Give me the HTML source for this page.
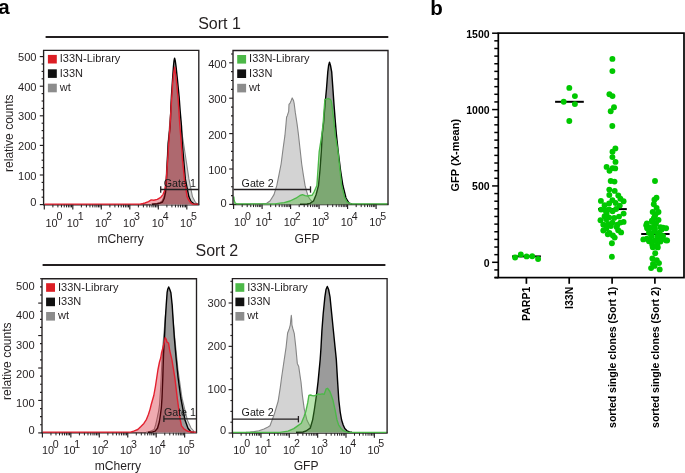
<!DOCTYPE html>
<html><head><meta charset="utf-8"><style>
html,body{margin:0;padding:0;background:#fff;}
body{width:685px;height:473px;overflow:hidden;}
svg{display:block;font-family:"Liberation Sans", sans-serif;will-change:transform;}
</style></head><body>
<svg width="685" height="473" viewBox="0 0 685 473">
<rect width="685" height="473" fill="#fff"/>
<text x="-1.70" y="14.00" font-size="20.5" text-anchor="start" font-weight="bold" fill="#000" >a</text>
<text x="430.30" y="14.50" font-size="20.5" text-anchor="start" font-weight="bold" fill="#000" >b</text>
<text x="219.50" y="28.50" font-size="16" text-anchor="middle" font-weight="normal" fill="#231f20" >Sort 1</text>
<line x1="45.60" y1="37.00" x2="388.30" y2="37.00" stroke="#231f20" stroke-width="2" stroke-linecap="butt"/>
<text x="216.90" y="256.00" font-size="16" text-anchor="middle" font-weight="normal" fill="#231f20" >Sort 2</text>
<line x1="42.60" y1="265.00" x2="385.40" y2="265.00" stroke="#231f20" stroke-width="2" stroke-linecap="butt"/>
<line x1="43.00" y1="204.80" x2="199.40" y2="204.80" stroke="#231f20" stroke-width="1.35" stroke-linecap="butt"/>
<path d="M151.00,204.30 L156.50,203.60 L159.50,202.60 L162.00,201.00 L163.80,197.00 L165.00,191.00 L166.00,179.00 L168.00,143.00 L170.00,120.00 L172.00,95.00 L174.00,80.00 L175.50,78.00 L177.00,85.00 L179.50,110.00 L181.50,130.00 L183.50,143.00 L186.20,160.90 L188.90,178.90 L192.50,196.80 L195.00,201.50 L197.00,204.00 L198.30,204.30 L198.30,204.60 L151.00,204.60 Z" fill="#d3d3d3" stroke="none"/>
<path d="M151.00,204.30 L156.50,203.60 L159.50,202.60 L162.00,201.00 L163.80,197.00 L165.00,191.00 L166.00,179.00 L168.00,143.00 L170.00,120.00 L172.00,95.00 L174.00,80.00 L175.50,78.00 L177.00,85.00 L179.50,110.00 L181.50,130.00 L183.50,143.00 L186.20,160.90 L188.90,178.90 L192.50,196.80 L195.00,201.50 L197.00,204.00 L198.30,204.30" fill="none" stroke="#858585" stroke-width="1.1" stroke-linejoin="round"/>
<path d="M152.00,204.30 L157.30,203.80 L160.00,203.10 L162.50,202.00 L164.30,198.10 L165.60,192.00 L166.50,179.00 L168.30,143.00 L170.20,126.20 L170.80,110.40 L171.40,96.50 L172.70,77.40 L173.50,66.00 L174.00,61.00 L174.60,58.10 L175.30,61.00 L176.00,66.00 L177.20,77.40 L179.10,96.50 L180.10,110.40 L181.50,126.20 L182.30,143.00 L185.30,178.90 L188.90,196.80 L191.00,201.50 L194.30,204.00 L198.00,204.30 L198.00,204.60 L152.00,204.60 Z" fill="#9b9b9b" stroke="none"/>
<path d="M152.00,204.30 L157.30,203.80 L160.00,203.10 L162.50,202.00 L164.30,198.10 L165.60,192.00 L166.50,179.00 L168.30,143.00 L170.20,126.20 L170.80,110.40 L171.40,96.50 L172.70,77.40 L173.50,66.00 L174.00,61.00 L174.60,58.10 L175.30,61.00 L176.00,66.00 L177.20,77.40 L179.10,96.50 L180.10,110.40 L181.50,126.20 L182.30,143.00 L185.30,178.90 L188.90,196.80 L191.00,201.50 L194.30,204.00 L198.00,204.30" fill="none" stroke="#000000" stroke-width="1.4" stroke-linejoin="round"/>
<path d="M44.50,204.10 L136.00,204.10 L140.00,204.10 L143.00,203.50 L145.00,203.00 L148.50,201.60 L151.20,199.90 L153.80,200.30 L157.30,199.40 L160.80,197.30 L163.00,194.60 L164.70,190.30 L165.60,185.00 L166.30,178.90 L167.60,160.90 L168.80,143.00 L170.00,125.00 L171.60,100.00 L172.80,82.00 L173.60,74.00 L174.60,67.20 L175.50,74.00 L176.50,82.00 L178.20,100.00 L179.80,125.00 L181.30,143.00 L182.60,160.90 L184.40,178.90 L187.10,196.80 L188.90,200.40 L191.00,203.00 L192.50,204.10 L198.30,204.10 L198.30,204.60 L44.50,204.60 Z" fill="rgba(210,12,28,0.35)" stroke="none"/>
<path d="M44.50,204.10 L136.00,204.10 L140.00,204.10 L143.00,203.50 L145.00,203.00 L148.50,201.60 L151.20,199.90 L153.80,200.30 L157.30,199.40 L160.80,197.30 L163.00,194.60 L164.70,190.30 L165.60,185.00 L166.30,178.90 L167.60,160.90 L168.80,143.00 L170.00,125.00 L171.60,100.00 L172.80,82.00 L173.60,74.00 L174.60,67.20 L175.50,74.00 L176.50,82.00 L178.20,100.00 L179.80,125.00 L181.30,143.00 L182.60,160.90 L184.40,178.90 L187.10,196.80 L188.90,200.40 L191.00,203.00 L192.50,204.10 L198.30,204.10" fill="none" stroke="#e3202f" stroke-width="1.4" stroke-linejoin="round"/>
<path d="M43.60,204.80 L43.60,50.40 L198.80,50.40 L198.80,204.80" fill="none" stroke="#231f20" stroke-width="1.35"/>
<line x1="39.80" y1="56.60" x2="43.60" y2="56.60" stroke="#231f20" stroke-width="1.15" stroke-linecap="butt"/>
<line x1="41.60" y1="64.00" x2="43.60" y2="64.00" stroke="#231f20" stroke-width="1.15" stroke-linecap="butt"/>
<line x1="41.60" y1="71.40" x2="43.60" y2="71.40" stroke="#231f20" stroke-width="1.15" stroke-linecap="butt"/>
<line x1="41.60" y1="78.80" x2="43.60" y2="78.80" stroke="#231f20" stroke-width="1.15" stroke-linecap="butt"/>
<line x1="39.80" y1="86.20" x2="43.60" y2="86.20" stroke="#231f20" stroke-width="1.15" stroke-linecap="butt"/>
<line x1="41.60" y1="93.60" x2="43.60" y2="93.60" stroke="#231f20" stroke-width="1.15" stroke-linecap="butt"/>
<line x1="41.60" y1="101.00" x2="43.60" y2="101.00" stroke="#231f20" stroke-width="1.15" stroke-linecap="butt"/>
<line x1="41.60" y1="108.40" x2="43.60" y2="108.40" stroke="#231f20" stroke-width="1.15" stroke-linecap="butt"/>
<line x1="39.80" y1="115.80" x2="43.60" y2="115.80" stroke="#231f20" stroke-width="1.15" stroke-linecap="butt"/>
<line x1="41.60" y1="123.20" x2="43.60" y2="123.20" stroke="#231f20" stroke-width="1.15" stroke-linecap="butt"/>
<line x1="41.60" y1="130.60" x2="43.60" y2="130.60" stroke="#231f20" stroke-width="1.15" stroke-linecap="butt"/>
<line x1="41.60" y1="138.00" x2="43.60" y2="138.00" stroke="#231f20" stroke-width="1.15" stroke-linecap="butt"/>
<line x1="39.80" y1="145.40" x2="43.60" y2="145.40" stroke="#231f20" stroke-width="1.15" stroke-linecap="butt"/>
<line x1="41.60" y1="152.80" x2="43.60" y2="152.80" stroke="#231f20" stroke-width="1.15" stroke-linecap="butt"/>
<line x1="41.60" y1="160.20" x2="43.60" y2="160.20" stroke="#231f20" stroke-width="1.15" stroke-linecap="butt"/>
<line x1="41.60" y1="167.60" x2="43.60" y2="167.60" stroke="#231f20" stroke-width="1.15" stroke-linecap="butt"/>
<line x1="39.80" y1="175.00" x2="43.60" y2="175.00" stroke="#231f20" stroke-width="1.15" stroke-linecap="butt"/>
<line x1="41.60" y1="182.40" x2="43.60" y2="182.40" stroke="#231f20" stroke-width="1.15" stroke-linecap="butt"/>
<line x1="41.60" y1="189.80" x2="43.60" y2="189.80" stroke="#231f20" stroke-width="1.15" stroke-linecap="butt"/>
<line x1="41.60" y1="197.20" x2="43.60" y2="197.20" stroke="#231f20" stroke-width="1.15" stroke-linecap="butt"/>
<line x1="39.80" y1="204.60" x2="43.60" y2="204.60" stroke="#231f20" stroke-width="1.15" stroke-linecap="butt"/>
<text x="36.50" y="61.20" font-size="11.1" text-anchor="end" font-weight="normal" fill="#231f20" >500</text>
<text x="36.50" y="90.80" font-size="11.1" text-anchor="end" font-weight="normal" fill="#231f20" >400</text>
<text x="36.50" y="120.40" font-size="11.1" text-anchor="end" font-weight="normal" fill="#231f20" >300</text>
<text x="36.50" y="150.00" font-size="11.1" text-anchor="end" font-weight="normal" fill="#231f20" >200</text>
<text x="36.50" y="179.60" font-size="11.1" text-anchor="end" font-weight="normal" fill="#231f20" >100</text>
<text x="36.50" y="206.30" font-size="11.1" text-anchor="end" font-weight="normal" fill="#231f20" >0</text>
<line x1="44.30" y1="204.80" x2="44.30" y2="209.40" stroke="#231f20" stroke-width="1.15" stroke-linecap="butt"/>
<line x1="52.88" y1="204.80" x2="52.88" y2="207.40" stroke="#231f20" stroke-width="1.0" stroke-linecap="butt"/>
<line x1="57.90" y1="204.80" x2="57.90" y2="207.40" stroke="#231f20" stroke-width="1.0" stroke-linecap="butt"/>
<line x1="61.46" y1="204.80" x2="61.46" y2="207.40" stroke="#231f20" stroke-width="1.0" stroke-linecap="butt"/>
<line x1="64.22" y1="204.80" x2="64.22" y2="207.40" stroke="#231f20" stroke-width="1.0" stroke-linecap="butt"/>
<line x1="66.48" y1="204.80" x2="66.48" y2="207.40" stroke="#231f20" stroke-width="1.0" stroke-linecap="butt"/>
<line x1="68.39" y1="204.80" x2="68.39" y2="207.40" stroke="#231f20" stroke-width="1.0" stroke-linecap="butt"/>
<line x1="70.04" y1="204.80" x2="70.04" y2="207.40" stroke="#231f20" stroke-width="1.0" stroke-linecap="butt"/>
<line x1="71.50" y1="204.80" x2="71.50" y2="207.40" stroke="#231f20" stroke-width="1.0" stroke-linecap="butt"/>
<line x1="72.80" y1="204.80" x2="72.80" y2="209.40" stroke="#231f20" stroke-width="1.15" stroke-linecap="butt"/>
<line x1="81.38" y1="204.80" x2="81.38" y2="207.40" stroke="#231f20" stroke-width="1.0" stroke-linecap="butt"/>
<line x1="86.40" y1="204.80" x2="86.40" y2="207.40" stroke="#231f20" stroke-width="1.0" stroke-linecap="butt"/>
<line x1="89.96" y1="204.80" x2="89.96" y2="207.40" stroke="#231f20" stroke-width="1.0" stroke-linecap="butt"/>
<line x1="92.72" y1="204.80" x2="92.72" y2="207.40" stroke="#231f20" stroke-width="1.0" stroke-linecap="butt"/>
<line x1="94.98" y1="204.80" x2="94.98" y2="207.40" stroke="#231f20" stroke-width="1.0" stroke-linecap="butt"/>
<line x1="96.89" y1="204.80" x2="96.89" y2="207.40" stroke="#231f20" stroke-width="1.0" stroke-linecap="butt"/>
<line x1="98.54" y1="204.80" x2="98.54" y2="207.40" stroke="#231f20" stroke-width="1.0" stroke-linecap="butt"/>
<line x1="100.00" y1="204.80" x2="100.00" y2="207.40" stroke="#231f20" stroke-width="1.0" stroke-linecap="butt"/>
<line x1="101.30" y1="204.80" x2="101.30" y2="209.40" stroke="#231f20" stroke-width="1.15" stroke-linecap="butt"/>
<line x1="109.88" y1="204.80" x2="109.88" y2="207.40" stroke="#231f20" stroke-width="1.0" stroke-linecap="butt"/>
<line x1="114.90" y1="204.80" x2="114.90" y2="207.40" stroke="#231f20" stroke-width="1.0" stroke-linecap="butt"/>
<line x1="118.46" y1="204.80" x2="118.46" y2="207.40" stroke="#231f20" stroke-width="1.0" stroke-linecap="butt"/>
<line x1="121.22" y1="204.80" x2="121.22" y2="207.40" stroke="#231f20" stroke-width="1.0" stroke-linecap="butt"/>
<line x1="123.48" y1="204.80" x2="123.48" y2="207.40" stroke="#231f20" stroke-width="1.0" stroke-linecap="butt"/>
<line x1="125.39" y1="204.80" x2="125.39" y2="207.40" stroke="#231f20" stroke-width="1.0" stroke-linecap="butt"/>
<line x1="127.04" y1="204.80" x2="127.04" y2="207.40" stroke="#231f20" stroke-width="1.0" stroke-linecap="butt"/>
<line x1="128.50" y1="204.80" x2="128.50" y2="207.40" stroke="#231f20" stroke-width="1.0" stroke-linecap="butt"/>
<line x1="129.80" y1="204.80" x2="129.80" y2="209.40" stroke="#231f20" stroke-width="1.15" stroke-linecap="butt"/>
<line x1="138.38" y1="204.80" x2="138.38" y2="207.40" stroke="#231f20" stroke-width="1.0" stroke-linecap="butt"/>
<line x1="143.40" y1="204.80" x2="143.40" y2="207.40" stroke="#231f20" stroke-width="1.0" stroke-linecap="butt"/>
<line x1="146.96" y1="204.80" x2="146.96" y2="207.40" stroke="#231f20" stroke-width="1.0" stroke-linecap="butt"/>
<line x1="149.72" y1="204.80" x2="149.72" y2="207.40" stroke="#231f20" stroke-width="1.0" stroke-linecap="butt"/>
<line x1="151.98" y1="204.80" x2="151.98" y2="207.40" stroke="#231f20" stroke-width="1.0" stroke-linecap="butt"/>
<line x1="153.89" y1="204.80" x2="153.89" y2="207.40" stroke="#231f20" stroke-width="1.0" stroke-linecap="butt"/>
<line x1="155.54" y1="204.80" x2="155.54" y2="207.40" stroke="#231f20" stroke-width="1.0" stroke-linecap="butt"/>
<line x1="157.00" y1="204.80" x2="157.00" y2="207.40" stroke="#231f20" stroke-width="1.0" stroke-linecap="butt"/>
<line x1="158.30" y1="204.80" x2="158.30" y2="209.40" stroke="#231f20" stroke-width="1.15" stroke-linecap="butt"/>
<line x1="166.88" y1="204.80" x2="166.88" y2="207.40" stroke="#231f20" stroke-width="1.0" stroke-linecap="butt"/>
<line x1="171.90" y1="204.80" x2="171.90" y2="207.40" stroke="#231f20" stroke-width="1.0" stroke-linecap="butt"/>
<line x1="175.46" y1="204.80" x2="175.46" y2="207.40" stroke="#231f20" stroke-width="1.0" stroke-linecap="butt"/>
<line x1="178.22" y1="204.80" x2="178.22" y2="207.40" stroke="#231f20" stroke-width="1.0" stroke-linecap="butt"/>
<line x1="180.48" y1="204.80" x2="180.48" y2="207.40" stroke="#231f20" stroke-width="1.0" stroke-linecap="butt"/>
<line x1="182.39" y1="204.80" x2="182.39" y2="207.40" stroke="#231f20" stroke-width="1.0" stroke-linecap="butt"/>
<line x1="184.04" y1="204.80" x2="184.04" y2="207.40" stroke="#231f20" stroke-width="1.0" stroke-linecap="butt"/>
<line x1="185.50" y1="204.80" x2="185.50" y2="207.40" stroke="#231f20" stroke-width="1.0" stroke-linecap="butt"/>
<line x1="186.80" y1="204.80" x2="186.80" y2="209.40" stroke="#231f20" stroke-width="1.15" stroke-linecap="butt"/>
<text x="45.50" y="226.60" font-size="10.9" fill="#231f20">10<tspan dx="-1.2" dy="-6.4" font-size="10.6">0</tspan></text>
<text x="66.80" y="226.60" font-size="10.9" fill="#231f20">10<tspan dx="-1.2" dy="-6.4" font-size="10.6">1</tspan></text>
<text x="95.10" y="226.60" font-size="10.9" fill="#231f20">10<tspan dx="-1.2" dy="-6.4" font-size="10.6">2</tspan></text>
<text x="123.10" y="226.60" font-size="10.9" fill="#231f20">10<tspan dx="-1.2" dy="-6.4" font-size="10.6">3</tspan></text>
<text x="151.80" y="226.60" font-size="10.9" fill="#231f20">10<tspan dx="-1.2" dy="-6.4" font-size="10.6">4</tspan></text>
<text x="180.10" y="226.60" font-size="10.9" fill="#231f20">10<tspan dx="-1.2" dy="-6.4" font-size="10.6">5</tspan></text>
<text x="97.40" y="242.60" font-size="12.1" text-anchor="start" font-weight="normal" fill="#231f20" >mCherry</text>
<rect x="47.90" y="54.90" width="8.9" height="8.6" fill="#dc1e25"/>
<text x="59.80" y="62.30" font-size="11.0" text-anchor="start" font-weight="normal" fill="#231f20" >I33N-Library</text>
<rect x="47.90" y="69.30" width="8.9" height="8.6" fill="#111111"/>
<text x="59.80" y="76.70" font-size="11.0" text-anchor="start" font-weight="normal" fill="#231f20" >I33N</text>
<rect x="47.90" y="83.70" width="8.9" height="8.6" fill="#8c8c8c"/>
<text x="59.80" y="91.10" font-size="11.0" text-anchor="start" font-weight="normal" fill="#231f20" >wt</text>
<line x1="160.70" y1="189.50" x2="198.80" y2="189.50" stroke="#231f20" stroke-width="1.3" stroke-linecap="butt"/>
<line x1="160.70" y1="186.30" x2="160.70" y2="192.70" stroke="#231f20" stroke-width="1.3" stroke-linecap="butt"/>
<text x="163.80" y="187.10" font-size="10.7" text-anchor="start" font-weight="normal" fill="#1a1a1a" >Gate 1</text>
<line x1="232.40" y1="204.50" x2="388.60" y2="204.50" stroke="#231f20" stroke-width="1.35" stroke-linecap="butt"/>
<path d="M250.00,204.30 L258.00,204.10 L262.00,203.90 L266.70,203.30 L270.00,201.00 L274.00,194.60 L276.90,185.20 L279.00,174.60 L281.10,164.00 L283.10,148.50 L284.90,135.70 L286.00,124.10 L286.60,117.10 L287.20,115.90 L288.70,111.30 L289.00,104.30 L290.10,103.10 L291.20,100.50 L292.20,97.90 L293.00,99.50 L293.60,100.80 L294.20,103.70 L295.30,112.40 L297.10,124.10 L298.30,133.40 L300.00,148.50 L301.70,164.00 L303.30,174.60 L305.00,185.20 L306.50,191.00 L308.50,197.00 L310.50,200.00 L314.00,203.00 L320.00,204.30 L320.00,204.40 L250.00,204.40 Z" fill="#d3d3d3" stroke="none"/>
<path d="M250.00,204.30 L258.00,204.10 L262.00,203.90 L266.70,203.30 L270.00,201.00 L274.00,194.60 L276.90,185.20 L279.00,174.60 L281.10,164.00 L283.10,148.50 L284.90,135.70 L286.00,124.10 L286.60,117.10 L287.20,115.90 L288.70,111.30 L289.00,104.30 L290.10,103.10 L291.20,100.50 L292.20,97.90 L293.00,99.50 L293.60,100.80 L294.20,103.70 L295.30,112.40 L297.10,124.10 L298.30,133.40 L300.00,148.50 L301.70,164.00 L303.30,174.60 L305.00,185.20 L306.50,191.00 L308.50,197.00 L310.50,200.00 L314.00,203.00 L320.00,204.30" fill="none" stroke="#858585" stroke-width="1.1" stroke-linejoin="round"/>
<path d="M300.00,204.30 L307.00,204.00 L310.00,203.40 L313.50,201.00 L316.00,195.00 L318.50,185.50 L320.00,170.00 L321.30,151.60 L322.20,134.40 L323.60,122.60 L324.90,105.70 L326.50,88.80 L327.80,71.90 L328.60,65.50 L329.50,62.10 L330.50,65.50 L331.70,71.90 L332.90,88.80 L334.10,105.70 L335.40,122.60 L336.40,134.40 L338.20,151.60 L340.50,170.00 L342.90,185.50 L346.00,198.00 L349.00,203.00 L352.00,204.30 L352.00,204.40 L300.00,204.40 Z" fill="#9b9b9b" stroke="none"/>
<path d="M300.00,204.30 L307.00,204.00 L310.00,203.40 L313.50,201.00 L316.00,195.00 L318.50,185.50 L320.00,170.00 L321.30,151.60 L322.20,134.40 L323.60,122.60 L324.90,105.70 L326.50,88.80 L327.80,71.90 L328.60,65.50 L329.50,62.10 L330.50,65.50 L331.70,71.90 L332.90,88.80 L334.10,105.70 L335.40,122.60 L336.40,134.40 L338.20,151.60 L340.50,170.00 L342.90,185.50 L346.00,198.00 L349.00,203.00 L352.00,204.30" fill="none" stroke="#000000" stroke-width="1.4" stroke-linejoin="round"/>
<path d="M233.80,196.50 L234.20,200.50 L235.00,202.80 L236.50,203.80 L240.00,203.80 L265.00,203.80 L275.00,203.80 L280.00,203.10 L284.20,202.60 L290.00,201.00 L295.90,198.20 L300.00,195.50 L302.50,194.60 L305.00,195.60 L307.60,196.00 L310.00,195.50 L312.00,195.30 L314.00,192.00 L316.90,185.50 L319.20,151.60 L321.90,134.40 L323.20,122.60 L324.40,105.70 L324.90,99.30 L326.50,99.20 L328.00,98.50 L329.30,99.00 L330.30,99.30 L331.20,101.00 L332.00,105.70 L334.00,122.60 L335.10,134.40 L338.00,151.60 L341.60,185.50 L344.50,197.00 L347.00,202.00 L351.00,203.80 L387.50,203.80 L387.50,204.40 L233.80,204.40 Z" fill="rgba(80,188,55,0.4)" stroke="none"/>
<path d="M233.80,196.50 L234.20,200.50 L235.00,202.80 L236.50,203.80 L240.00,203.80 L265.00,203.80 L275.00,203.80 L280.00,203.10 L284.20,202.60 L290.00,201.00 L295.90,198.20 L300.00,195.50 L302.50,194.60 L305.00,195.60 L307.60,196.00 L310.00,195.50 L312.00,195.30 L314.00,192.00 L316.90,185.50 L319.20,151.60 L321.90,134.40 L323.20,122.60 L324.40,105.70 L324.90,99.30 L326.50,99.20 L328.00,98.50 L329.30,99.00 L330.30,99.30 L331.20,101.00 L332.00,105.70 L334.00,122.60 L335.10,134.40 L338.00,151.60 L341.60,185.50 L344.50,197.00 L347.00,202.00 L351.00,203.80 L387.50,203.80" fill="none" stroke="#4cb848" stroke-width="1.35" stroke-linejoin="round"/>
<path d="M233.00,204.50 L233.00,50.50 L388.00,50.50 L388.00,204.50" fill="none" stroke="#231f20" stroke-width="1.35"/>
<line x1="231.00" y1="53.95" x2="233.00" y2="53.95" stroke="#231f20" stroke-width="1.15" stroke-linecap="butt"/>
<line x1="229.20" y1="62.80" x2="233.00" y2="62.80" stroke="#231f20" stroke-width="1.15" stroke-linecap="butt"/>
<line x1="231.00" y1="71.65" x2="233.00" y2="71.65" stroke="#231f20" stroke-width="1.15" stroke-linecap="butt"/>
<line x1="231.00" y1="80.50" x2="233.00" y2="80.50" stroke="#231f20" stroke-width="1.15" stroke-linecap="butt"/>
<line x1="231.00" y1="89.35" x2="233.00" y2="89.35" stroke="#231f20" stroke-width="1.15" stroke-linecap="butt"/>
<line x1="229.20" y1="98.20" x2="233.00" y2="98.20" stroke="#231f20" stroke-width="1.15" stroke-linecap="butt"/>
<line x1="231.00" y1="107.05" x2="233.00" y2="107.05" stroke="#231f20" stroke-width="1.15" stroke-linecap="butt"/>
<line x1="231.00" y1="115.90" x2="233.00" y2="115.90" stroke="#231f20" stroke-width="1.15" stroke-linecap="butt"/>
<line x1="231.00" y1="124.75" x2="233.00" y2="124.75" stroke="#231f20" stroke-width="1.15" stroke-linecap="butt"/>
<line x1="229.20" y1="133.60" x2="233.00" y2="133.60" stroke="#231f20" stroke-width="1.15" stroke-linecap="butt"/>
<line x1="231.00" y1="142.45" x2="233.00" y2="142.45" stroke="#231f20" stroke-width="1.15" stroke-linecap="butt"/>
<line x1="231.00" y1="151.30" x2="233.00" y2="151.30" stroke="#231f20" stroke-width="1.15" stroke-linecap="butt"/>
<line x1="231.00" y1="160.15" x2="233.00" y2="160.15" stroke="#231f20" stroke-width="1.15" stroke-linecap="butt"/>
<line x1="229.20" y1="169.00" x2="233.00" y2="169.00" stroke="#231f20" stroke-width="1.15" stroke-linecap="butt"/>
<line x1="231.00" y1="177.85" x2="233.00" y2="177.85" stroke="#231f20" stroke-width="1.15" stroke-linecap="butt"/>
<line x1="231.00" y1="186.70" x2="233.00" y2="186.70" stroke="#231f20" stroke-width="1.15" stroke-linecap="butt"/>
<line x1="231.00" y1="195.55" x2="233.00" y2="195.55" stroke="#231f20" stroke-width="1.15" stroke-linecap="butt"/>
<line x1="229.20" y1="204.40" x2="233.00" y2="204.40" stroke="#231f20" stroke-width="1.15" stroke-linecap="butt"/>
<text x="226.70" y="67.90" font-size="11.1" text-anchor="end" font-weight="normal" fill="#231f20" >400</text>
<text x="226.70" y="103.30" font-size="11.1" text-anchor="end" font-weight="normal" fill="#231f20" >300</text>
<text x="226.70" y="138.70" font-size="11.1" text-anchor="end" font-weight="normal" fill="#231f20" >200</text>
<text x="226.70" y="174.10" font-size="11.1" text-anchor="end" font-weight="normal" fill="#231f20" >100</text>
<text x="226.70" y="206.90" font-size="11.1" text-anchor="end" font-weight="normal" fill="#231f20" >0</text>
<line x1="233.60" y1="204.50" x2="233.60" y2="209.10" stroke="#231f20" stroke-width="1.15" stroke-linecap="butt"/>
<line x1="242.18" y1="204.50" x2="242.18" y2="207.10" stroke="#231f20" stroke-width="1.0" stroke-linecap="butt"/>
<line x1="247.20" y1="204.50" x2="247.20" y2="207.10" stroke="#231f20" stroke-width="1.0" stroke-linecap="butt"/>
<line x1="250.76" y1="204.50" x2="250.76" y2="207.10" stroke="#231f20" stroke-width="1.0" stroke-linecap="butt"/>
<line x1="253.52" y1="204.50" x2="253.52" y2="207.10" stroke="#231f20" stroke-width="1.0" stroke-linecap="butt"/>
<line x1="255.78" y1="204.50" x2="255.78" y2="207.10" stroke="#231f20" stroke-width="1.0" stroke-linecap="butt"/>
<line x1="257.69" y1="204.50" x2="257.69" y2="207.10" stroke="#231f20" stroke-width="1.0" stroke-linecap="butt"/>
<line x1="259.34" y1="204.50" x2="259.34" y2="207.10" stroke="#231f20" stroke-width="1.0" stroke-linecap="butt"/>
<line x1="260.80" y1="204.50" x2="260.80" y2="207.10" stroke="#231f20" stroke-width="1.0" stroke-linecap="butt"/>
<line x1="262.10" y1="204.50" x2="262.10" y2="209.10" stroke="#231f20" stroke-width="1.15" stroke-linecap="butt"/>
<line x1="270.68" y1="204.50" x2="270.68" y2="207.10" stroke="#231f20" stroke-width="1.0" stroke-linecap="butt"/>
<line x1="275.70" y1="204.50" x2="275.70" y2="207.10" stroke="#231f20" stroke-width="1.0" stroke-linecap="butt"/>
<line x1="279.26" y1="204.50" x2="279.26" y2="207.10" stroke="#231f20" stroke-width="1.0" stroke-linecap="butt"/>
<line x1="282.02" y1="204.50" x2="282.02" y2="207.10" stroke="#231f20" stroke-width="1.0" stroke-linecap="butt"/>
<line x1="284.28" y1="204.50" x2="284.28" y2="207.10" stroke="#231f20" stroke-width="1.0" stroke-linecap="butt"/>
<line x1="286.19" y1="204.50" x2="286.19" y2="207.10" stroke="#231f20" stroke-width="1.0" stroke-linecap="butt"/>
<line x1="287.84" y1="204.50" x2="287.84" y2="207.10" stroke="#231f20" stroke-width="1.0" stroke-linecap="butt"/>
<line x1="289.30" y1="204.50" x2="289.30" y2="207.10" stroke="#231f20" stroke-width="1.0" stroke-linecap="butt"/>
<line x1="290.60" y1="204.50" x2="290.60" y2="209.10" stroke="#231f20" stroke-width="1.15" stroke-linecap="butt"/>
<line x1="299.18" y1="204.50" x2="299.18" y2="207.10" stroke="#231f20" stroke-width="1.0" stroke-linecap="butt"/>
<line x1="304.20" y1="204.50" x2="304.20" y2="207.10" stroke="#231f20" stroke-width="1.0" stroke-linecap="butt"/>
<line x1="307.76" y1="204.50" x2="307.76" y2="207.10" stroke="#231f20" stroke-width="1.0" stroke-linecap="butt"/>
<line x1="310.52" y1="204.50" x2="310.52" y2="207.10" stroke="#231f20" stroke-width="1.0" stroke-linecap="butt"/>
<line x1="312.78" y1="204.50" x2="312.78" y2="207.10" stroke="#231f20" stroke-width="1.0" stroke-linecap="butt"/>
<line x1="314.69" y1="204.50" x2="314.69" y2="207.10" stroke="#231f20" stroke-width="1.0" stroke-linecap="butt"/>
<line x1="316.34" y1="204.50" x2="316.34" y2="207.10" stroke="#231f20" stroke-width="1.0" stroke-linecap="butt"/>
<line x1="317.80" y1="204.50" x2="317.80" y2="207.10" stroke="#231f20" stroke-width="1.0" stroke-linecap="butt"/>
<line x1="319.10" y1="204.50" x2="319.10" y2="209.10" stroke="#231f20" stroke-width="1.15" stroke-linecap="butt"/>
<line x1="327.68" y1="204.50" x2="327.68" y2="207.10" stroke="#231f20" stroke-width="1.0" stroke-linecap="butt"/>
<line x1="332.70" y1="204.50" x2="332.70" y2="207.10" stroke="#231f20" stroke-width="1.0" stroke-linecap="butt"/>
<line x1="336.26" y1="204.50" x2="336.26" y2="207.10" stroke="#231f20" stroke-width="1.0" stroke-linecap="butt"/>
<line x1="339.02" y1="204.50" x2="339.02" y2="207.10" stroke="#231f20" stroke-width="1.0" stroke-linecap="butt"/>
<line x1="341.28" y1="204.50" x2="341.28" y2="207.10" stroke="#231f20" stroke-width="1.0" stroke-linecap="butt"/>
<line x1="343.19" y1="204.50" x2="343.19" y2="207.10" stroke="#231f20" stroke-width="1.0" stroke-linecap="butt"/>
<line x1="344.84" y1="204.50" x2="344.84" y2="207.10" stroke="#231f20" stroke-width="1.0" stroke-linecap="butt"/>
<line x1="346.30" y1="204.50" x2="346.30" y2="207.10" stroke="#231f20" stroke-width="1.0" stroke-linecap="butt"/>
<line x1="347.60" y1="204.50" x2="347.60" y2="209.10" stroke="#231f20" stroke-width="1.15" stroke-linecap="butt"/>
<line x1="356.18" y1="204.50" x2="356.18" y2="207.10" stroke="#231f20" stroke-width="1.0" stroke-linecap="butt"/>
<line x1="361.20" y1="204.50" x2="361.20" y2="207.10" stroke="#231f20" stroke-width="1.0" stroke-linecap="butt"/>
<line x1="364.76" y1="204.50" x2="364.76" y2="207.10" stroke="#231f20" stroke-width="1.0" stroke-linecap="butt"/>
<line x1="367.52" y1="204.50" x2="367.52" y2="207.10" stroke="#231f20" stroke-width="1.0" stroke-linecap="butt"/>
<line x1="369.78" y1="204.50" x2="369.78" y2="207.10" stroke="#231f20" stroke-width="1.0" stroke-linecap="butt"/>
<line x1="371.69" y1="204.50" x2="371.69" y2="207.10" stroke="#231f20" stroke-width="1.0" stroke-linecap="butt"/>
<line x1="373.34" y1="204.50" x2="373.34" y2="207.10" stroke="#231f20" stroke-width="1.0" stroke-linecap="butt"/>
<line x1="374.80" y1="204.50" x2="374.80" y2="207.10" stroke="#231f20" stroke-width="1.0" stroke-linecap="butt"/>
<line x1="376.10" y1="204.50" x2="376.10" y2="209.10" stroke="#231f20" stroke-width="1.15" stroke-linecap="butt"/>
<text x="234.10" y="226.10" font-size="10.9" fill="#231f20">10<tspan dx="-1.2" dy="-6.4" font-size="10.6">0</tspan></text>
<text x="255.60" y="226.10" font-size="10.9" fill="#231f20">10<tspan dx="-1.2" dy="-6.4" font-size="10.6">1</tspan></text>
<text x="283.80" y="226.10" font-size="10.9" fill="#231f20">10<tspan dx="-1.2" dy="-6.4" font-size="10.6">2</tspan></text>
<text x="312.30" y="226.10" font-size="10.9" fill="#231f20">10<tspan dx="-1.2" dy="-6.4" font-size="10.6">3</tspan></text>
<text x="340.80" y="226.10" font-size="10.9" fill="#231f20">10<tspan dx="-1.2" dy="-6.4" font-size="10.6">4</tspan></text>
<text x="369.30" y="226.10" font-size="10.9" fill="#231f20">10<tspan dx="-1.2" dy="-6.4" font-size="10.6">5</tspan></text>
<text x="294.60" y="242.50" font-size="12.1" text-anchor="start" font-weight="normal" fill="#231f20" >GFP</text>
<rect x="237.20" y="55.00" width="8.9" height="8.6" fill="#4cb848"/>
<text x="249.10" y="62.40" font-size="11.0" text-anchor="start" font-weight="normal" fill="#231f20" >I33N-Library</text>
<rect x="237.20" y="69.40" width="8.9" height="8.6" fill="#111111"/>
<text x="249.10" y="76.80" font-size="11.0" text-anchor="start" font-weight="normal" fill="#231f20" >I33N</text>
<rect x="237.20" y="83.80" width="8.9" height="8.6" fill="#8c8c8c"/>
<text x="249.10" y="91.20" font-size="11.0" text-anchor="start" font-weight="normal" fill="#231f20" >wt</text>
<line x1="233.60" y1="189.50" x2="310.50" y2="189.50" stroke="#231f20" stroke-width="1.3" stroke-linecap="butt"/>
<line x1="310.50" y1="186.30" x2="310.50" y2="192.70" stroke="#231f20" stroke-width="1.3" stroke-linecap="butt"/>
<text x="241.60" y="187.00" font-size="10.7" text-anchor="start" font-weight="normal" fill="#1a1a1a" >Gate 2</text>
<line x1="41.40" y1="432.80" x2="197.10" y2="432.80" stroke="#231f20" stroke-width="1.35" stroke-linecap="butt"/>
<path d="M146.00,432.20 L149.00,431.80 L151.50,430.80 L154.20,429.50 L155.60,425.00 L156.70,420.30 L158.80,410.10 L159.60,404.00 L160.80,385.00 L161.50,370.00 L162.50,350.00 L163.80,335.00 L165.50,315.00 L167.50,302.00 L169.50,297.00 L171.50,303.00 L174.00,330.00 L178.00,370.00 L182.00,398.00 L187.30,420.00 L191.00,428.00 L194.70,432.00 L196.30,432.20 L196.30,432.40 L146.00,432.40 Z" fill="#d3d3d3" stroke="none"/>
<path d="M146.00,432.20 L149.00,431.80 L151.50,430.80 L154.20,429.50 L155.60,425.00 L156.70,420.30 L158.80,410.10 L159.60,404.00 L160.80,385.00 L161.50,370.00 L162.50,350.00 L163.80,335.00 L165.50,315.00 L167.50,302.00 L169.50,297.00 L171.50,303.00 L174.00,330.00 L178.00,370.00 L182.00,398.00 L187.30,420.00 L191.00,428.00 L194.70,432.00 L196.30,432.20" fill="none" stroke="#858585" stroke-width="1.1" stroke-linejoin="round"/>
<path d="M148.00,432.20 L152.00,432.10 L155.00,431.20 L157.50,428.20 L159.30,422.00 L160.40,415.00 L161.30,408.00 L162.00,398.00 L162.80,377.00 L163.50,355.00 L164.50,337.20 L165.40,318.10 L166.20,305.40 L167.10,292.70 L167.70,289.30 L168.70,287.00 L169.70,289.30 L170.90,292.70 L172.20,305.40 L173.00,318.10 L174.30,337.20 L176.00,357.00 L178.00,377.00 L180.80,398.00 L185.00,420.00 L188.00,428.30 L191.00,432.00 L194.00,432.20 L194.00,432.40 L148.00,432.40 Z" fill="#9b9b9b" stroke="none"/>
<path d="M148.00,432.20 L152.00,432.10 L155.00,431.20 L157.50,428.20 L159.30,422.00 L160.40,415.00 L161.30,408.00 L162.00,398.00 L162.80,377.00 L163.50,355.00 L164.50,337.20 L165.40,318.10 L166.20,305.40 L167.10,292.70 L167.70,289.30 L168.70,287.00 L169.70,289.30 L170.90,292.70 L172.20,305.40 L173.00,318.10 L174.30,337.20 L176.00,357.00 L178.00,377.00 L180.80,398.00 L185.00,420.00 L188.00,428.30 L191.00,432.00 L194.00,432.20" fill="none" stroke="#000000" stroke-width="1.4" stroke-linejoin="round"/>
<path d="M42.60,432.10 L120.00,432.10 L127.60,432.10 L130.50,432.10 L133.70,431.10 L137.80,429.50 L140.90,426.50 L143.90,423.40 L146.50,419.30 L148.50,414.20 L150.10,409.10 L151.10,405.00 L152.50,400.00 L153.80,395.50 L155.50,386.00 L157.90,370.00 L159.50,362.00 L160.70,358.00 L161.50,353.00 L162.60,349.00 L164.20,342.70 L165.20,337.60 L166.40,339.50 L166.80,342.00 L167.70,342.40 L168.60,343.30 L169.80,351.00 L171.80,359.20 L174.80,377.30 L177.30,398.40 L180.20,419.50 L181.50,425.90 L183.80,428.80 L187.50,431.20 L192.60,432.10 L196.30,432.10 L196.30,432.40 L42.60,432.40 Z" fill="rgba(210,12,28,0.35)" stroke="none"/>
<path d="M42.60,432.10 L120.00,432.10 L127.60,432.10 L130.50,432.10 L133.70,431.10 L137.80,429.50 L140.90,426.50 L143.90,423.40 L146.50,419.30 L148.50,414.20 L150.10,409.10 L151.10,405.00 L152.50,400.00 L153.80,395.50 L155.50,386.00 L157.90,370.00 L159.50,362.00 L160.70,358.00 L161.50,353.00 L162.60,349.00 L164.20,342.70 L165.20,337.60 L166.40,339.50 L166.80,342.00 L167.70,342.40 L168.60,343.30 L169.80,351.00 L171.80,359.20 L174.80,377.30 L177.30,398.40 L180.20,419.50 L181.50,425.90 L183.80,428.80 L187.50,431.20 L192.60,432.10 L196.30,432.10" fill="none" stroke="#e3202f" stroke-width="1.4" stroke-linejoin="round"/>
<path d="M42.00,432.80 L42.00,278.70 L196.50,278.70 L196.50,432.80" fill="none" stroke="#231f20" stroke-width="1.35"/>
<line x1="38.20" y1="432.90" x2="42.00" y2="432.90" stroke="#231f20" stroke-width="1.15" stroke-linecap="butt"/>
<line x1="40.00" y1="424.79" x2="42.00" y2="424.79" stroke="#231f20" stroke-width="1.15" stroke-linecap="butt"/>
<line x1="40.00" y1="416.67" x2="42.00" y2="416.67" stroke="#231f20" stroke-width="1.15" stroke-linecap="butt"/>
<line x1="40.00" y1="408.56" x2="42.00" y2="408.56" stroke="#231f20" stroke-width="1.15" stroke-linecap="butt"/>
<line x1="38.20" y1="400.45" x2="42.00" y2="400.45" stroke="#231f20" stroke-width="1.15" stroke-linecap="butt"/>
<line x1="40.00" y1="392.34" x2="42.00" y2="392.34" stroke="#231f20" stroke-width="1.15" stroke-linecap="butt"/>
<line x1="40.00" y1="384.22" x2="42.00" y2="384.22" stroke="#231f20" stroke-width="1.15" stroke-linecap="butt"/>
<line x1="40.00" y1="376.11" x2="42.00" y2="376.11" stroke="#231f20" stroke-width="1.15" stroke-linecap="butt"/>
<line x1="38.20" y1="368.00" x2="42.00" y2="368.00" stroke="#231f20" stroke-width="1.15" stroke-linecap="butt"/>
<line x1="40.00" y1="359.89" x2="42.00" y2="359.89" stroke="#231f20" stroke-width="1.15" stroke-linecap="butt"/>
<line x1="40.00" y1="351.77" x2="42.00" y2="351.77" stroke="#231f20" stroke-width="1.15" stroke-linecap="butt"/>
<line x1="40.00" y1="343.66" x2="42.00" y2="343.66" stroke="#231f20" stroke-width="1.15" stroke-linecap="butt"/>
<line x1="38.20" y1="335.55" x2="42.00" y2="335.55" stroke="#231f20" stroke-width="1.15" stroke-linecap="butt"/>
<line x1="40.00" y1="327.44" x2="42.00" y2="327.44" stroke="#231f20" stroke-width="1.15" stroke-linecap="butt"/>
<line x1="40.00" y1="319.32" x2="42.00" y2="319.32" stroke="#231f20" stroke-width="1.15" stroke-linecap="butt"/>
<line x1="40.00" y1="311.21" x2="42.00" y2="311.21" stroke="#231f20" stroke-width="1.15" stroke-linecap="butt"/>
<line x1="38.20" y1="303.10" x2="42.00" y2="303.10" stroke="#231f20" stroke-width="1.15" stroke-linecap="butt"/>
<line x1="40.00" y1="294.99" x2="42.00" y2="294.99" stroke="#231f20" stroke-width="1.15" stroke-linecap="butt"/>
<line x1="40.00" y1="286.88" x2="42.00" y2="286.88" stroke="#231f20" stroke-width="1.15" stroke-linecap="butt"/>
<line x1="40.00" y1="278.76" x2="42.00" y2="278.76" stroke="#231f20" stroke-width="1.15" stroke-linecap="butt"/>
<text x="34.60" y="434.00" font-size="11.1" text-anchor="end" font-weight="normal" fill="#231f20" >0</text>
<text x="34.60" y="407.40" font-size="11.1" text-anchor="end" font-weight="normal" fill="#231f20" >100</text>
<text x="34.60" y="378.00" font-size="11.1" text-anchor="end" font-weight="normal" fill="#231f20" >200</text>
<text x="34.60" y="348.60" font-size="11.1" text-anchor="end" font-weight="normal" fill="#231f20" >300</text>
<text x="34.60" y="319.20" font-size="11.1" text-anchor="end" font-weight="normal" fill="#231f20" >400</text>
<text x="34.60" y="289.80" font-size="11.1" text-anchor="end" font-weight="normal" fill="#231f20" >500</text>
<line x1="42.40" y1="432.80" x2="42.40" y2="437.40" stroke="#231f20" stroke-width="1.15" stroke-linecap="butt"/>
<line x1="50.96" y1="432.80" x2="50.96" y2="435.40" stroke="#231f20" stroke-width="1.0" stroke-linecap="butt"/>
<line x1="55.97" y1="432.80" x2="55.97" y2="435.40" stroke="#231f20" stroke-width="1.0" stroke-linecap="butt"/>
<line x1="59.53" y1="432.80" x2="59.53" y2="435.40" stroke="#231f20" stroke-width="1.0" stroke-linecap="butt"/>
<line x1="62.29" y1="432.80" x2="62.29" y2="435.40" stroke="#231f20" stroke-width="1.0" stroke-linecap="butt"/>
<line x1="64.54" y1="432.80" x2="64.54" y2="435.40" stroke="#231f20" stroke-width="1.0" stroke-linecap="butt"/>
<line x1="66.44" y1="432.80" x2="66.44" y2="435.40" stroke="#231f20" stroke-width="1.0" stroke-linecap="butt"/>
<line x1="68.09" y1="432.80" x2="68.09" y2="435.40" stroke="#231f20" stroke-width="1.0" stroke-linecap="butt"/>
<line x1="69.55" y1="432.80" x2="69.55" y2="435.40" stroke="#231f20" stroke-width="1.0" stroke-linecap="butt"/>
<line x1="70.85" y1="432.80" x2="70.85" y2="437.40" stroke="#231f20" stroke-width="1.15" stroke-linecap="butt"/>
<line x1="79.41" y1="432.80" x2="79.41" y2="435.40" stroke="#231f20" stroke-width="1.0" stroke-linecap="butt"/>
<line x1="84.42" y1="432.80" x2="84.42" y2="435.40" stroke="#231f20" stroke-width="1.0" stroke-linecap="butt"/>
<line x1="87.98" y1="432.80" x2="87.98" y2="435.40" stroke="#231f20" stroke-width="1.0" stroke-linecap="butt"/>
<line x1="90.74" y1="432.80" x2="90.74" y2="435.40" stroke="#231f20" stroke-width="1.0" stroke-linecap="butt"/>
<line x1="92.99" y1="432.80" x2="92.99" y2="435.40" stroke="#231f20" stroke-width="1.0" stroke-linecap="butt"/>
<line x1="94.89" y1="432.80" x2="94.89" y2="435.40" stroke="#231f20" stroke-width="1.0" stroke-linecap="butt"/>
<line x1="96.54" y1="432.80" x2="96.54" y2="435.40" stroke="#231f20" stroke-width="1.0" stroke-linecap="butt"/>
<line x1="98.00" y1="432.80" x2="98.00" y2="435.40" stroke="#231f20" stroke-width="1.0" stroke-linecap="butt"/>
<line x1="99.30" y1="432.80" x2="99.30" y2="437.40" stroke="#231f20" stroke-width="1.15" stroke-linecap="butt"/>
<line x1="107.86" y1="432.80" x2="107.86" y2="435.40" stroke="#231f20" stroke-width="1.0" stroke-linecap="butt"/>
<line x1="112.87" y1="432.80" x2="112.87" y2="435.40" stroke="#231f20" stroke-width="1.0" stroke-linecap="butt"/>
<line x1="116.43" y1="432.80" x2="116.43" y2="435.40" stroke="#231f20" stroke-width="1.0" stroke-linecap="butt"/>
<line x1="119.19" y1="432.80" x2="119.19" y2="435.40" stroke="#231f20" stroke-width="1.0" stroke-linecap="butt"/>
<line x1="121.44" y1="432.80" x2="121.44" y2="435.40" stroke="#231f20" stroke-width="1.0" stroke-linecap="butt"/>
<line x1="123.34" y1="432.80" x2="123.34" y2="435.40" stroke="#231f20" stroke-width="1.0" stroke-linecap="butt"/>
<line x1="124.99" y1="432.80" x2="124.99" y2="435.40" stroke="#231f20" stroke-width="1.0" stroke-linecap="butt"/>
<line x1="126.45" y1="432.80" x2="126.45" y2="435.40" stroke="#231f20" stroke-width="1.0" stroke-linecap="butt"/>
<line x1="127.75" y1="432.80" x2="127.75" y2="437.40" stroke="#231f20" stroke-width="1.15" stroke-linecap="butt"/>
<line x1="136.31" y1="432.80" x2="136.31" y2="435.40" stroke="#231f20" stroke-width="1.0" stroke-linecap="butt"/>
<line x1="141.32" y1="432.80" x2="141.32" y2="435.40" stroke="#231f20" stroke-width="1.0" stroke-linecap="butt"/>
<line x1="144.88" y1="432.80" x2="144.88" y2="435.40" stroke="#231f20" stroke-width="1.0" stroke-linecap="butt"/>
<line x1="147.64" y1="432.80" x2="147.64" y2="435.40" stroke="#231f20" stroke-width="1.0" stroke-linecap="butt"/>
<line x1="149.89" y1="432.80" x2="149.89" y2="435.40" stroke="#231f20" stroke-width="1.0" stroke-linecap="butt"/>
<line x1="151.79" y1="432.80" x2="151.79" y2="435.40" stroke="#231f20" stroke-width="1.0" stroke-linecap="butt"/>
<line x1="153.44" y1="432.80" x2="153.44" y2="435.40" stroke="#231f20" stroke-width="1.0" stroke-linecap="butt"/>
<line x1="154.90" y1="432.80" x2="154.90" y2="435.40" stroke="#231f20" stroke-width="1.0" stroke-linecap="butt"/>
<line x1="156.20" y1="432.80" x2="156.20" y2="437.40" stroke="#231f20" stroke-width="1.15" stroke-linecap="butt"/>
<line x1="164.76" y1="432.80" x2="164.76" y2="435.40" stroke="#231f20" stroke-width="1.0" stroke-linecap="butt"/>
<line x1="169.77" y1="432.80" x2="169.77" y2="435.40" stroke="#231f20" stroke-width="1.0" stroke-linecap="butt"/>
<line x1="173.33" y1="432.80" x2="173.33" y2="435.40" stroke="#231f20" stroke-width="1.0" stroke-linecap="butt"/>
<line x1="176.09" y1="432.80" x2="176.09" y2="435.40" stroke="#231f20" stroke-width="1.0" stroke-linecap="butt"/>
<line x1="178.34" y1="432.80" x2="178.34" y2="435.40" stroke="#231f20" stroke-width="1.0" stroke-linecap="butt"/>
<line x1="180.24" y1="432.80" x2="180.24" y2="435.40" stroke="#231f20" stroke-width="1.0" stroke-linecap="butt"/>
<line x1="181.89" y1="432.80" x2="181.89" y2="435.40" stroke="#231f20" stroke-width="1.0" stroke-linecap="butt"/>
<line x1="183.35" y1="432.80" x2="183.35" y2="435.40" stroke="#231f20" stroke-width="1.0" stroke-linecap="butt"/>
<line x1="184.65" y1="432.80" x2="184.65" y2="437.40" stroke="#231f20" stroke-width="1.15" stroke-linecap="butt"/>
<text x="41.90" y="454.40" font-size="10.9" fill="#231f20">10<tspan dx="-1.2" dy="-6.4" font-size="10.6">0</tspan></text>
<text x="63.40" y="454.40" font-size="10.9" fill="#231f20">10<tspan dx="-1.2" dy="-6.4" font-size="10.6">1</tspan></text>
<text x="91.90" y="454.40" font-size="10.9" fill="#231f20">10<tspan dx="-1.2" dy="-6.4" font-size="10.6">2</tspan></text>
<text x="120.00" y="454.40" font-size="10.9" fill="#231f20">10<tspan dx="-1.2" dy="-6.4" font-size="10.6">3</tspan></text>
<text x="148.90" y="454.40" font-size="10.9" fill="#231f20">10<tspan dx="-1.2" dy="-6.4" font-size="10.6">4</tspan></text>
<text x="177.80" y="454.40" font-size="10.9" fill="#231f20">10<tspan dx="-1.2" dy="-6.4" font-size="10.6">5</tspan></text>
<text x="94.70" y="470.30" font-size="12.1" text-anchor="start" font-weight="normal" fill="#231f20" >mCherry</text>
<rect x="46.10" y="283.20" width="8.9" height="8.6" fill="#dc1e25"/>
<text x="58.00" y="290.60" font-size="11.0" text-anchor="start" font-weight="normal" fill="#231f20" >I33N-Library</text>
<rect x="46.10" y="297.60" width="8.9" height="8.6" fill="#111111"/>
<text x="58.00" y="305.00" font-size="11.0" text-anchor="start" font-weight="normal" fill="#231f20" >I33N</text>
<rect x="46.10" y="312.00" width="8.9" height="8.6" fill="#8c8c8c"/>
<text x="58.00" y="319.40" font-size="11.0" text-anchor="start" font-weight="normal" fill="#231f20" >wt</text>
<line x1="163.90" y1="418.80" x2="196.50" y2="418.80" stroke="#231f20" stroke-width="1.3" stroke-linecap="butt"/>
<line x1="163.90" y1="415.60" x2="163.90" y2="422.00" stroke="#231f20" stroke-width="1.3" stroke-linecap="butt"/>
<text x="163.90" y="416.30" font-size="10.7" text-anchor="start" font-weight="normal" fill="#1a1a1a" >Gate 1</text>
<line x1="231.80" y1="433.10" x2="387.70" y2="433.10" stroke="#231f20" stroke-width="1.35" stroke-linecap="butt"/>
<path d="M246.00,432.30 L250.00,432.00 L254.00,431.60 L259.00,430.70 L264.00,429.10 L267.00,427.60 L270.00,425.70 L274.10,414.80 L278.20,401.00 L280.30,387.30 L281.70,376.80 L283.90,361.90 L286.10,347.10 L287.60,333.00 L289.10,329.30 L290.30,324.80 L290.90,319.00 L291.30,315.20 L291.70,319.00 L291.90,324.80 L292.80,328.50 L294.30,333.70 L295.80,347.10 L297.30,363.40 L298.70,366.40 L300.20,376.80 L301.00,382.00 L302.40,395.60 L304.30,409.30 L307.00,420.30 L311.20,428.50 L315.00,431.30 L320.00,432.30 L320.00,432.60 L246.00,432.60 Z" fill="#d3d3d3" stroke="none"/>
<path d="M246.00,432.30 L250.00,432.00 L254.00,431.60 L259.00,430.70 L264.00,429.10 L267.00,427.60 L270.00,425.70 L274.10,414.80 L278.20,401.00 L280.30,387.30 L281.70,376.80 L283.90,361.90 L286.10,347.10 L287.60,333.00 L289.10,329.30 L290.30,324.80 L290.90,319.00 L291.30,315.20 L291.70,319.00 L291.90,324.80 L292.80,328.50 L294.30,333.70 L295.80,347.10 L297.30,363.40 L298.70,366.40 L300.20,376.80 L301.00,382.00 L302.40,395.60 L304.30,409.30 L307.00,420.30 L311.20,428.50 L315.00,431.30 L320.00,432.30" fill="none" stroke="#858585" stroke-width="1.1" stroke-linejoin="round"/>
<path d="M296.00,432.30 L303.00,432.00 L306.00,431.00 L310.20,428.20 L312.70,419.60 L314.30,410.00 L316.50,395.00 L318.10,381.40 L320.20,359.40 L321.00,347.60 L321.90,330.70 L323.20,313.80 L324.90,296.90 L326.00,289.50 L327.30,286.50 L328.60,289.50 L330.00,296.90 L331.70,313.80 L333.40,330.70 L335.10,347.60 L336.30,359.40 L337.60,381.40 L338.80,400.00 L340.20,412.00 L341.60,420.00 L343.20,425.00 L344.80,428.50 L347.00,430.80 L349.50,432.00 L352.00,432.30 L352.00,432.60 L296.00,432.60 Z" fill="#9b9b9b" stroke="none"/>
<path d="M296.00,432.30 L303.00,432.00 L306.00,431.00 L310.20,428.20 L312.70,419.60 L314.30,410.00 L316.50,395.00 L318.10,381.40 L320.20,359.40 L321.00,347.60 L321.90,330.70 L323.20,313.80 L324.90,296.90 L326.00,289.50 L327.30,286.50 L328.60,289.50 L330.00,296.90 L331.70,313.80 L333.40,330.70 L335.10,347.60 L336.30,359.40 L337.60,381.40 L338.80,400.00 L340.20,412.00 L341.60,420.00 L343.20,425.00 L344.80,428.50 L347.00,430.80 L349.50,432.00 L352.00,432.30" fill="none" stroke="#000000" stroke-width="1.4" stroke-linejoin="round"/>
<path d="M232.80,432.40 L260.00,432.40 L280.00,432.40 L288.00,431.20 L293.80,428.60 L298.00,425.60 L301.30,423.20 L303.90,417.00 L305.80,411.50 L307.70,402.90 L308.90,395.30 L310.20,395.00 L312.00,395.50 L314.00,395.90 L316.00,395.20 L317.80,394.00 L320.00,394.40 L322.20,393.80 L324.20,394.30 L326.10,388.90 L327.70,388.30 L329.90,391.50 L331.20,395.00 L333.00,400.30 L335.10,410.00 L337.00,420.00 L338.60,424.80 L340.80,428.20 L343.00,430.40 L345.50,431.60 L348.50,432.40 L386.80,432.40 L386.80,432.60 L232.80,432.60 Z" fill="rgba(80,188,55,0.4)" stroke="none"/>
<path d="M232.80,432.40 L260.00,432.40 L280.00,432.40 L288.00,431.20 L293.80,428.60 L298.00,425.60 L301.30,423.20 L303.90,417.00 L305.80,411.50 L307.70,402.90 L308.90,395.30 L310.20,395.00 L312.00,395.50 L314.00,395.90 L316.00,395.20 L317.80,394.00 L320.00,394.40 L322.20,393.80 L324.20,394.30 L326.10,388.90 L327.70,388.30 L329.90,391.50 L331.20,395.00 L333.00,400.30 L335.10,410.00 L337.00,420.00 L338.60,424.80 L340.80,428.20 L343.00,430.40 L345.50,431.60 L348.50,432.40 L386.80,432.40" fill="none" stroke="#4cb848" stroke-width="1.35" stroke-linejoin="round"/>
<path d="M232.40,433.10 L232.40,278.60 L387.10,278.60 L387.10,433.10" fill="none" stroke="#231f20" stroke-width="1.35"/>
<line x1="230.40" y1="281.32" x2="232.40" y2="281.32" stroke="#231f20" stroke-width="1.15" stroke-linecap="butt"/>
<line x1="230.40" y1="292.16" x2="232.40" y2="292.16" stroke="#231f20" stroke-width="1.15" stroke-linecap="butt"/>
<line x1="228.60" y1="303.00" x2="232.40" y2="303.00" stroke="#231f20" stroke-width="1.15" stroke-linecap="butt"/>
<line x1="230.40" y1="313.84" x2="232.40" y2="313.84" stroke="#231f20" stroke-width="1.15" stroke-linecap="butt"/>
<line x1="230.40" y1="324.68" x2="232.40" y2="324.68" stroke="#231f20" stroke-width="1.15" stroke-linecap="butt"/>
<line x1="230.40" y1="335.51" x2="232.40" y2="335.51" stroke="#231f20" stroke-width="1.15" stroke-linecap="butt"/>
<line x1="228.60" y1="346.35" x2="232.40" y2="346.35" stroke="#231f20" stroke-width="1.15" stroke-linecap="butt"/>
<line x1="230.40" y1="357.19" x2="232.40" y2="357.19" stroke="#231f20" stroke-width="1.15" stroke-linecap="butt"/>
<line x1="230.40" y1="368.02" x2="232.40" y2="368.02" stroke="#231f20" stroke-width="1.15" stroke-linecap="butt"/>
<line x1="230.40" y1="378.86" x2="232.40" y2="378.86" stroke="#231f20" stroke-width="1.15" stroke-linecap="butt"/>
<line x1="228.60" y1="389.70" x2="232.40" y2="389.70" stroke="#231f20" stroke-width="1.15" stroke-linecap="butt"/>
<line x1="230.40" y1="400.54" x2="232.40" y2="400.54" stroke="#231f20" stroke-width="1.15" stroke-linecap="butt"/>
<line x1="230.40" y1="411.38" x2="232.40" y2="411.38" stroke="#231f20" stroke-width="1.15" stroke-linecap="butt"/>
<line x1="230.40" y1="422.21" x2="232.40" y2="422.21" stroke="#231f20" stroke-width="1.15" stroke-linecap="butt"/>
<line x1="228.60" y1="433.05" x2="232.40" y2="433.05" stroke="#231f20" stroke-width="1.15" stroke-linecap="butt"/>
<text x="226.10" y="307.40" font-size="11.1" text-anchor="end" font-weight="normal" fill="#231f20" >300</text>
<text x="226.10" y="350.30" font-size="11.1" text-anchor="end" font-weight="normal" fill="#231f20" >200</text>
<text x="226.10" y="393.20" font-size="11.1" text-anchor="end" font-weight="normal" fill="#231f20" >100</text>
<text x="226.10" y="434.00" font-size="11.1" text-anchor="end" font-weight="normal" fill="#231f20" >0</text>
<line x1="232.60" y1="433.10" x2="232.60" y2="437.70" stroke="#231f20" stroke-width="1.15" stroke-linecap="butt"/>
<line x1="241.13" y1="433.10" x2="241.13" y2="435.70" stroke="#231f20" stroke-width="1.0" stroke-linecap="butt"/>
<line x1="246.13" y1="433.10" x2="246.13" y2="435.70" stroke="#231f20" stroke-width="1.0" stroke-linecap="butt"/>
<line x1="249.67" y1="433.10" x2="249.67" y2="435.70" stroke="#231f20" stroke-width="1.0" stroke-linecap="butt"/>
<line x1="252.42" y1="433.10" x2="252.42" y2="435.70" stroke="#231f20" stroke-width="1.0" stroke-linecap="butt"/>
<line x1="254.66" y1="433.10" x2="254.66" y2="435.70" stroke="#231f20" stroke-width="1.0" stroke-linecap="butt"/>
<line x1="256.56" y1="433.10" x2="256.56" y2="435.70" stroke="#231f20" stroke-width="1.0" stroke-linecap="butt"/>
<line x1="258.20" y1="433.10" x2="258.20" y2="435.70" stroke="#231f20" stroke-width="1.0" stroke-linecap="butt"/>
<line x1="259.65" y1="433.10" x2="259.65" y2="435.70" stroke="#231f20" stroke-width="1.0" stroke-linecap="butt"/>
<line x1="260.95" y1="433.10" x2="260.95" y2="437.70" stroke="#231f20" stroke-width="1.15" stroke-linecap="butt"/>
<line x1="269.48" y1="433.10" x2="269.48" y2="435.70" stroke="#231f20" stroke-width="1.0" stroke-linecap="butt"/>
<line x1="274.48" y1="433.10" x2="274.48" y2="435.70" stroke="#231f20" stroke-width="1.0" stroke-linecap="butt"/>
<line x1="278.02" y1="433.10" x2="278.02" y2="435.70" stroke="#231f20" stroke-width="1.0" stroke-linecap="butt"/>
<line x1="280.77" y1="433.10" x2="280.77" y2="435.70" stroke="#231f20" stroke-width="1.0" stroke-linecap="butt"/>
<line x1="283.01" y1="433.10" x2="283.01" y2="435.70" stroke="#231f20" stroke-width="1.0" stroke-linecap="butt"/>
<line x1="284.91" y1="433.10" x2="284.91" y2="435.70" stroke="#231f20" stroke-width="1.0" stroke-linecap="butt"/>
<line x1="286.55" y1="433.10" x2="286.55" y2="435.70" stroke="#231f20" stroke-width="1.0" stroke-linecap="butt"/>
<line x1="288.00" y1="433.10" x2="288.00" y2="435.70" stroke="#231f20" stroke-width="1.0" stroke-linecap="butt"/>
<line x1="289.30" y1="433.10" x2="289.30" y2="437.70" stroke="#231f20" stroke-width="1.15" stroke-linecap="butt"/>
<line x1="297.83" y1="433.10" x2="297.83" y2="435.70" stroke="#231f20" stroke-width="1.0" stroke-linecap="butt"/>
<line x1="302.83" y1="433.10" x2="302.83" y2="435.70" stroke="#231f20" stroke-width="1.0" stroke-linecap="butt"/>
<line x1="306.37" y1="433.10" x2="306.37" y2="435.70" stroke="#231f20" stroke-width="1.0" stroke-linecap="butt"/>
<line x1="309.12" y1="433.10" x2="309.12" y2="435.70" stroke="#231f20" stroke-width="1.0" stroke-linecap="butt"/>
<line x1="311.36" y1="433.10" x2="311.36" y2="435.70" stroke="#231f20" stroke-width="1.0" stroke-linecap="butt"/>
<line x1="313.26" y1="433.10" x2="313.26" y2="435.70" stroke="#231f20" stroke-width="1.0" stroke-linecap="butt"/>
<line x1="314.90" y1="433.10" x2="314.90" y2="435.70" stroke="#231f20" stroke-width="1.0" stroke-linecap="butt"/>
<line x1="316.35" y1="433.10" x2="316.35" y2="435.70" stroke="#231f20" stroke-width="1.0" stroke-linecap="butt"/>
<line x1="317.65" y1="433.10" x2="317.65" y2="437.70" stroke="#231f20" stroke-width="1.15" stroke-linecap="butt"/>
<line x1="326.18" y1="433.10" x2="326.18" y2="435.70" stroke="#231f20" stroke-width="1.0" stroke-linecap="butt"/>
<line x1="331.18" y1="433.10" x2="331.18" y2="435.70" stroke="#231f20" stroke-width="1.0" stroke-linecap="butt"/>
<line x1="334.72" y1="433.10" x2="334.72" y2="435.70" stroke="#231f20" stroke-width="1.0" stroke-linecap="butt"/>
<line x1="337.47" y1="433.10" x2="337.47" y2="435.70" stroke="#231f20" stroke-width="1.0" stroke-linecap="butt"/>
<line x1="339.71" y1="433.10" x2="339.71" y2="435.70" stroke="#231f20" stroke-width="1.0" stroke-linecap="butt"/>
<line x1="341.61" y1="433.10" x2="341.61" y2="435.70" stroke="#231f20" stroke-width="1.0" stroke-linecap="butt"/>
<line x1="343.25" y1="433.10" x2="343.25" y2="435.70" stroke="#231f20" stroke-width="1.0" stroke-linecap="butt"/>
<line x1="344.70" y1="433.10" x2="344.70" y2="435.70" stroke="#231f20" stroke-width="1.0" stroke-linecap="butt"/>
<line x1="346.00" y1="433.10" x2="346.00" y2="437.70" stroke="#231f20" stroke-width="1.15" stroke-linecap="butt"/>
<line x1="354.53" y1="433.10" x2="354.53" y2="435.70" stroke="#231f20" stroke-width="1.0" stroke-linecap="butt"/>
<line x1="359.53" y1="433.10" x2="359.53" y2="435.70" stroke="#231f20" stroke-width="1.0" stroke-linecap="butt"/>
<line x1="363.07" y1="433.10" x2="363.07" y2="435.70" stroke="#231f20" stroke-width="1.0" stroke-linecap="butt"/>
<line x1="365.82" y1="433.10" x2="365.82" y2="435.70" stroke="#231f20" stroke-width="1.0" stroke-linecap="butt"/>
<line x1="368.06" y1="433.10" x2="368.06" y2="435.70" stroke="#231f20" stroke-width="1.0" stroke-linecap="butt"/>
<line x1="369.96" y1="433.10" x2="369.96" y2="435.70" stroke="#231f20" stroke-width="1.0" stroke-linecap="butt"/>
<line x1="371.60" y1="433.10" x2="371.60" y2="435.70" stroke="#231f20" stroke-width="1.0" stroke-linecap="butt"/>
<line x1="373.05" y1="433.10" x2="373.05" y2="435.70" stroke="#231f20" stroke-width="1.0" stroke-linecap="butt"/>
<line x1="374.35" y1="433.10" x2="374.35" y2="437.70" stroke="#231f20" stroke-width="1.15" stroke-linecap="butt"/>
<text x="233.30" y="453.80" font-size="10.9" fill="#231f20">10<tspan dx="-1.2" dy="-6.4" font-size="10.6">0</tspan></text>
<text x="254.80" y="453.80" font-size="10.9" fill="#231f20">10<tspan dx="-1.2" dy="-6.4" font-size="10.6">1</tspan></text>
<text x="283.00" y="453.80" font-size="10.9" fill="#231f20">10<tspan dx="-1.2" dy="-6.4" font-size="10.6">2</tspan></text>
<text x="311.10" y="453.80" font-size="10.9" fill="#231f20">10<tspan dx="-1.2" dy="-6.4" font-size="10.6">3</tspan></text>
<text x="339.30" y="453.80" font-size="10.9" fill="#231f20">10<tspan dx="-1.2" dy="-6.4" font-size="10.6">4</tspan></text>
<text x="367.40" y="453.80" font-size="10.9" fill="#231f20">10<tspan dx="-1.2" dy="-6.4" font-size="10.6">5</tspan></text>
<text x="293.70" y="469.80" font-size="12.1" text-anchor="start" font-weight="normal" fill="#231f20" >GFP</text>
<rect x="235.40" y="283.20" width="8.9" height="8.6" fill="#4cb848"/>
<text x="247.30" y="290.60" font-size="11.0" text-anchor="start" font-weight="normal" fill="#231f20" >I33N-Library</text>
<rect x="235.40" y="297.60" width="8.9" height="8.6" fill="#111111"/>
<text x="247.30" y="305.00" font-size="11.0" text-anchor="start" font-weight="normal" fill="#231f20" >I33N</text>
<rect x="235.40" y="312.00" width="8.9" height="8.6" fill="#8c8c8c"/>
<text x="247.30" y="319.40" font-size="11.0" text-anchor="start" font-weight="normal" fill="#231f20" >wt</text>
<line x1="232.70" y1="419.20" x2="298.40" y2="419.20" stroke="#231f20" stroke-width="1.3" stroke-linecap="butt"/>
<line x1="298.40" y1="416.00" x2="298.40" y2="422.40" stroke="#231f20" stroke-width="1.3" stroke-linecap="butt"/>
<text x="241.60" y="416.20" font-size="10.7" text-anchor="start" font-weight="normal" fill="#1a1a1a" >Gate 2</text>
<text transform="translate(12.8,133.2) rotate(-90)" font-size="12" text-anchor="middle" fill="#231f20">relative counts</text>
<text transform="translate(10.9,361.2) rotate(-90)" font-size="12" text-anchor="middle" fill="#231f20">relative counts</text>
<rect x="498.30" y="33.10" width="185.70" height="244.50" fill="none" stroke="#000" stroke-width="1.7"/>
<line x1="494.60" y1="277.60" x2="498.30" y2="277.60" stroke="#000" stroke-width="1.7" stroke-linecap="butt"/>
<line x1="494.30" y1="277.57" x2="498.30" y2="277.57" stroke="#000" stroke-width="1.5" stroke-linecap="butt"/>
<line x1="494.30" y1="269.94" x2="498.30" y2="269.94" stroke="#000" stroke-width="1.5" stroke-linecap="butt"/>
<line x1="492.10" y1="262.30" x2="498.30" y2="262.30" stroke="#000" stroke-width="1.5" stroke-linecap="butt"/>
<line x1="494.30" y1="254.66" x2="498.30" y2="254.66" stroke="#000" stroke-width="1.5" stroke-linecap="butt"/>
<line x1="494.30" y1="247.03" x2="498.30" y2="247.03" stroke="#000" stroke-width="1.5" stroke-linecap="butt"/>
<line x1="494.30" y1="239.39" x2="498.30" y2="239.39" stroke="#000" stroke-width="1.5" stroke-linecap="butt"/>
<line x1="494.30" y1="231.75" x2="498.30" y2="231.75" stroke="#000" stroke-width="1.5" stroke-linecap="butt"/>
<line x1="494.30" y1="224.12" x2="498.30" y2="224.12" stroke="#000" stroke-width="1.5" stroke-linecap="butt"/>
<line x1="494.30" y1="216.48" x2="498.30" y2="216.48" stroke="#000" stroke-width="1.5" stroke-linecap="butt"/>
<line x1="494.30" y1="208.84" x2="498.30" y2="208.84" stroke="#000" stroke-width="1.5" stroke-linecap="butt"/>
<line x1="494.30" y1="201.21" x2="498.30" y2="201.21" stroke="#000" stroke-width="1.5" stroke-linecap="butt"/>
<line x1="494.30" y1="193.57" x2="498.30" y2="193.57" stroke="#000" stroke-width="1.5" stroke-linecap="butt"/>
<line x1="492.10" y1="185.93" x2="498.30" y2="185.93" stroke="#000" stroke-width="1.5" stroke-linecap="butt"/>
<line x1="494.30" y1="178.30" x2="498.30" y2="178.30" stroke="#000" stroke-width="1.5" stroke-linecap="butt"/>
<line x1="494.30" y1="170.66" x2="498.30" y2="170.66" stroke="#000" stroke-width="1.5" stroke-linecap="butt"/>
<line x1="494.30" y1="163.02" x2="498.30" y2="163.02" stroke="#000" stroke-width="1.5" stroke-linecap="butt"/>
<line x1="494.30" y1="155.39" x2="498.30" y2="155.39" stroke="#000" stroke-width="1.5" stroke-linecap="butt"/>
<line x1="494.30" y1="147.75" x2="498.30" y2="147.75" stroke="#000" stroke-width="1.5" stroke-linecap="butt"/>
<line x1="494.30" y1="140.11" x2="498.30" y2="140.11" stroke="#000" stroke-width="1.5" stroke-linecap="butt"/>
<line x1="494.30" y1="132.48" x2="498.30" y2="132.48" stroke="#000" stroke-width="1.5" stroke-linecap="butt"/>
<line x1="494.30" y1="124.84" x2="498.30" y2="124.84" stroke="#000" stroke-width="1.5" stroke-linecap="butt"/>
<line x1="494.30" y1="117.20" x2="498.30" y2="117.20" stroke="#000" stroke-width="1.5" stroke-linecap="butt"/>
<line x1="492.10" y1="109.57" x2="498.30" y2="109.57" stroke="#000" stroke-width="1.5" stroke-linecap="butt"/>
<line x1="494.30" y1="101.93" x2="498.30" y2="101.93" stroke="#000" stroke-width="1.5" stroke-linecap="butt"/>
<line x1="494.30" y1="94.29" x2="498.30" y2="94.29" stroke="#000" stroke-width="1.5" stroke-linecap="butt"/>
<line x1="494.30" y1="86.66" x2="498.30" y2="86.66" stroke="#000" stroke-width="1.5" stroke-linecap="butt"/>
<line x1="494.30" y1="79.02" x2="498.30" y2="79.02" stroke="#000" stroke-width="1.5" stroke-linecap="butt"/>
<line x1="494.30" y1="71.38" x2="498.30" y2="71.38" stroke="#000" stroke-width="1.5" stroke-linecap="butt"/>
<line x1="494.30" y1="63.75" x2="498.30" y2="63.75" stroke="#000" stroke-width="1.5" stroke-linecap="butt"/>
<line x1="494.30" y1="56.11" x2="498.30" y2="56.11" stroke="#000" stroke-width="1.5" stroke-linecap="butt"/>
<line x1="494.30" y1="48.47" x2="498.30" y2="48.47" stroke="#000" stroke-width="1.5" stroke-linecap="butt"/>
<line x1="494.30" y1="40.84" x2="498.30" y2="40.84" stroke="#000" stroke-width="1.5" stroke-linecap="butt"/>
<line x1="492.10" y1="33.20" x2="498.30" y2="33.20" stroke="#000" stroke-width="1.5" stroke-linecap="butt"/>
<text x="489.60" y="266.80" font-size="10.5" text-anchor="end" font-weight="bold" fill="#000" >0</text>
<text x="489.60" y="190.43" font-size="10.5" text-anchor="end" font-weight="bold" fill="#000" >500</text>
<text x="489.60" y="114.07" font-size="10.5" text-anchor="end" font-weight="bold" fill="#000" >1000</text>
<text x="489.60" y="37.70" font-size="10.5" text-anchor="end" font-weight="bold" fill="#000" >1500</text>
<text transform="translate(459.3,155.2) rotate(-90)" font-size="11" text-anchor="middle" font-weight="bold" fill="#000">GFP (X-mean)</text>
<line x1="526.40" y1="277.60" x2="526.40" y2="283.80" stroke="#000" stroke-width="1.7" stroke-linecap="butt"/>
<text transform="translate(530.10,286.7) rotate(-90)" font-size="10.5" text-anchor="end" font-weight="bold" fill="#000">PARP1</text>
<line x1="569.20" y1="277.60" x2="569.20" y2="283.80" stroke="#000" stroke-width="1.7" stroke-linecap="butt"/>
<text transform="translate(572.90,286.7) rotate(-90)" font-size="10.5" text-anchor="end" font-weight="bold" fill="#000">I33N</text>
<line x1="612.10" y1="277.60" x2="612.10" y2="283.80" stroke="#000" stroke-width="1.7" stroke-linecap="butt"/>
<text transform="translate(615.80,286.7) rotate(-90)" font-size="10.5" text-anchor="end" font-weight="bold" fill="#000">sorted single clones (Sort 1)</text>
<line x1="654.90" y1="277.60" x2="654.90" y2="283.80" stroke="#000" stroke-width="1.7" stroke-linecap="butt"/>
<text transform="translate(658.60,286.7) rotate(-90)" font-size="10.5" text-anchor="end" font-weight="bold" fill="#000">sorted single clones (Sort 2)</text>
<line x1="512.00" y1="256.40" x2="540.90" y2="256.40" stroke="#000" stroke-width="2.0" stroke-linecap="butt"/>
<line x1="555.10" y1="101.80" x2="583.80" y2="101.80" stroke="#000" stroke-width="2.0" stroke-linecap="butt"/>
<line x1="598.00" y1="209.10" x2="626.80" y2="209.10" stroke="#000" stroke-width="2.0" stroke-linecap="butt"/>
<line x1="641.20" y1="234.00" x2="669.60" y2="234.00" stroke="#000" stroke-width="2.0" stroke-linecap="butt"/>
<circle cx="515.10" cy="257.50" r="2.95" fill="#00c800"/>
<circle cx="520.80" cy="254.50" r="2.95" fill="#00c800"/>
<circle cx="526.60" cy="256.40" r="2.95" fill="#00c800"/>
<circle cx="532.20" cy="256.30" r="2.95" fill="#00c800"/>
<circle cx="538.10" cy="259.00" r="2.95" fill="#00c800"/>
<circle cx="569.30" cy="87.90" r="2.95" fill="#00c800"/>
<circle cx="574.90" cy="96.10" r="2.95" fill="#00c800"/>
<circle cx="563.70" cy="101.70" r="2.95" fill="#00c800"/>
<circle cx="574.90" cy="104.10" r="2.95" fill="#00c800"/>
<circle cx="569.30" cy="121.00" r="2.95" fill="#00c800"/>
<circle cx="612.40" cy="58.90" r="2.95" fill="#00c800"/>
<circle cx="612.40" cy="71.10" r="2.95" fill="#00c800"/>
<circle cx="609.40" cy="94.30" r="2.95" fill="#00c800"/>
<circle cx="612.50" cy="96.10" r="2.95" fill="#00c800"/>
<circle cx="614.00" cy="107.20" r="2.95" fill="#00c800"/>
<circle cx="610.70" cy="111.20" r="2.95" fill="#00c800"/>
<circle cx="612.30" cy="126.00" r="2.95" fill="#00c800"/>
<circle cx="615.40" cy="148.40" r="2.95" fill="#00c800"/>
<circle cx="612.50" cy="151.70" r="2.95" fill="#00c800"/>
<circle cx="612.40" cy="157.10" r="2.95" fill="#00c800"/>
<circle cx="615.50" cy="161.90" r="2.95" fill="#00c800"/>
<circle cx="606.60" cy="166.90" r="2.95" fill="#00c800"/>
<circle cx="609.50" cy="170.70" r="2.95" fill="#00c800"/>
<circle cx="612.60" cy="168.10" r="2.95" fill="#00c800"/>
<circle cx="615.20" cy="168.40" r="2.95" fill="#00c800"/>
<circle cx="610.70" cy="181.00" r="2.95" fill="#00c800"/>
<circle cx="614.50" cy="181.60" r="2.95" fill="#00c800"/>
<circle cx="609.30" cy="189.60" r="2.95" fill="#00c800"/>
<circle cx="614.70" cy="190.90" r="2.95" fill="#00c800"/>
<circle cx="609.30" cy="195.00" r="2.95" fill="#00c800"/>
<circle cx="618.30" cy="195.40" r="2.95" fill="#00c800"/>
<circle cx="600.90" cy="200.90" r="2.95" fill="#00c800"/>
<circle cx="623.60" cy="201.20" r="2.95" fill="#00c800"/>
<circle cx="612.40" cy="200.10" r="2.95" fill="#00c800"/>
<circle cx="620.40" cy="198.80" r="2.95" fill="#00c800"/>
<circle cx="609.10" cy="203.40" r="2.95" fill="#00c800"/>
<circle cx="604.60" cy="205.30" r="2.95" fill="#00c800"/>
<circle cx="615.60" cy="203.00" r="2.95" fill="#00c800"/>
<circle cx="619.80" cy="205.60" r="2.95" fill="#00c800"/>
<circle cx="601.10" cy="209.60" r="2.95" fill="#00c800"/>
<circle cx="609.10" cy="209.50" r="2.95" fill="#00c800"/>
<circle cx="616.10" cy="209.00" r="2.95" fill="#00c800"/>
<circle cx="623.60" cy="213.60" r="2.95" fill="#00c800"/>
<circle cx="606.60" cy="213.60" r="2.95" fill="#00c800"/>
<circle cx="604.60" cy="216.20" r="2.95" fill="#00c800"/>
<circle cx="609.20" cy="217.60" r="2.95" fill="#00c800"/>
<circle cx="614.20" cy="217.90" r="2.95" fill="#00c800"/>
<circle cx="619.00" cy="216.60" r="2.95" fill="#00c800"/>
<circle cx="606.20" cy="219.20" r="2.95" fill="#00c800"/>
<circle cx="605.20" cy="210.20" r="2.95" fill="#00c800"/>
<circle cx="612.60" cy="211.30" r="2.95" fill="#00c800"/>
<circle cx="600.50" cy="220.30" r="2.95" fill="#00c800"/>
<circle cx="603.30" cy="224.80" r="2.95" fill="#00c800"/>
<circle cx="608.00" cy="224.00" r="2.95" fill="#00c800"/>
<circle cx="612.50" cy="222.60" r="2.95" fill="#00c800"/>
<circle cx="617.30" cy="224.70" r="2.95" fill="#00c800"/>
<circle cx="623.60" cy="221.90" r="2.95" fill="#00c800"/>
<circle cx="620.40" cy="222.60" r="2.95" fill="#00c800"/>
<circle cx="603.30" cy="230.50" r="2.95" fill="#00c800"/>
<circle cx="606.40" cy="228.50" r="2.95" fill="#00c800"/>
<circle cx="610.90" cy="226.10" r="2.95" fill="#00c800"/>
<circle cx="616.60" cy="227.10" r="2.95" fill="#00c800"/>
<circle cx="621.10" cy="232.40" r="2.95" fill="#00c800"/>
<circle cx="618.20" cy="230.20" r="2.95" fill="#00c800"/>
<circle cx="607.80" cy="234.30" r="2.95" fill="#00c800"/>
<circle cx="612.90" cy="235.50" r="2.95" fill="#00c800"/>
<circle cx="609.40" cy="232.90" r="2.95" fill="#00c800"/>
<circle cx="614.70" cy="237.60" r="2.95" fill="#00c800"/>
<circle cx="611.90" cy="243.20" r="2.95" fill="#00c800"/>
<circle cx="611.90" cy="256.80" r="2.95" fill="#00c800"/>
<circle cx="655.00" cy="181.00" r="2.95" fill="#00c800"/>
<circle cx="656.50" cy="197.70" r="2.95" fill="#00c800"/>
<circle cx="654.40" cy="199.70" r="2.95" fill="#00c800"/>
<circle cx="653.80" cy="204.30" r="2.95" fill="#00c800"/>
<circle cx="656.60" cy="208.00" r="2.95" fill="#00c800"/>
<circle cx="652.70" cy="211.90" r="2.95" fill="#00c800"/>
<circle cx="658.50" cy="212.00" r="2.95" fill="#00c800"/>
<circle cx="655.60" cy="214.20" r="2.95" fill="#00c800"/>
<circle cx="653.80" cy="218.50" r="2.95" fill="#00c800"/>
<circle cx="658.50" cy="220.00" r="2.95" fill="#00c800"/>
<circle cx="651.90" cy="220.80" r="2.95" fill="#00c800"/>
<circle cx="646.90" cy="223.50" r="2.95" fill="#00c800"/>
<circle cx="654.70" cy="216.30" r="2.95" fill="#00c800"/>
<circle cx="652.20" cy="222.00" r="2.95" fill="#00c800"/>
<circle cx="646.20" cy="225.20" r="2.95" fill="#00c800"/>
<circle cx="647.10" cy="228.30" r="2.95" fill="#00c800"/>
<circle cx="650.30" cy="227.70" r="2.95" fill="#00c800"/>
<circle cx="654.70" cy="226.10" r="2.95" fill="#00c800"/>
<circle cx="660.40" cy="227.10" r="2.95" fill="#00c800"/>
<circle cx="666.10" cy="228.30" r="2.95" fill="#00c800"/>
<circle cx="649.00" cy="232.80" r="2.95" fill="#00c800"/>
<circle cx="654.10" cy="231.50" r="2.95" fill="#00c800"/>
<circle cx="659.20" cy="232.80" r="2.95" fill="#00c800"/>
<circle cx="650.90" cy="233.70" r="2.95" fill="#00c800"/>
<circle cx="658.50" cy="233.70" r="2.95" fill="#00c800"/>
<circle cx="663.00" cy="236.00" r="2.95" fill="#00c800"/>
<circle cx="643.30" cy="239.40" r="2.95" fill="#00c800"/>
<circle cx="667.10" cy="240.40" r="2.95" fill="#00c800"/>
<circle cx="656.00" cy="223.60" r="2.95" fill="#00c800"/>
<circle cx="661.50" cy="229.80" r="2.95" fill="#00c800"/>
<circle cx="663.00" cy="227.60" r="2.95" fill="#00c800"/>
<circle cx="648.50" cy="229.00" r="2.95" fill="#00c800"/>
<circle cx="655.00" cy="229.00" r="2.95" fill="#00c800"/>
<circle cx="662.40" cy="238.70" r="2.95" fill="#00c800"/>
<circle cx="646.90" cy="238.70" r="2.95" fill="#00c800"/>
<circle cx="651.60" cy="235.90" r="2.95" fill="#00c800"/>
<circle cx="657.30" cy="236.60" r="2.95" fill="#00c800"/>
<circle cx="662.40" cy="237.20" r="2.95" fill="#00c800"/>
<circle cx="666.20" cy="240.40" r="2.95" fill="#00c800"/>
<circle cx="650.30" cy="240.40" r="2.95" fill="#00c800"/>
<circle cx="656.60" cy="241.00" r="2.95" fill="#00c800"/>
<circle cx="660.50" cy="241.60" r="2.95" fill="#00c800"/>
<circle cx="649.00" cy="241.30" r="2.95" fill="#00c800"/>
<circle cx="654.70" cy="240.40" r="2.95" fill="#00c800"/>
<circle cx="661.40" cy="239.40" r="2.95" fill="#00c800"/>
<circle cx="652.20" cy="244.80" r="2.95" fill="#00c800"/>
<circle cx="657.30" cy="245.50" r="2.95" fill="#00c800"/>
<circle cx="652.80" cy="247.30" r="2.95" fill="#00c800"/>
<circle cx="657.80" cy="247.40" r="2.95" fill="#00c800"/>
<circle cx="655.00" cy="246.50" r="2.95" fill="#00c800"/>
<circle cx="655.20" cy="253.30" r="2.95" fill="#00c800"/>
<circle cx="652.40" cy="258.40" r="2.95" fill="#00c800"/>
<circle cx="656.80" cy="260.20" r="2.95" fill="#00c800"/>
<circle cx="659.00" cy="263.10" r="2.95" fill="#00c800"/>
<circle cx="653.00" cy="264.00" r="2.95" fill="#00c800"/>
<circle cx="654.60" cy="265.90" r="2.95" fill="#00c800"/>
<circle cx="651.10" cy="268.10" r="2.95" fill="#00c800"/>
<circle cx="659.70" cy="269.40" r="2.95" fill="#00c800"/>
</svg>
</body></html>
